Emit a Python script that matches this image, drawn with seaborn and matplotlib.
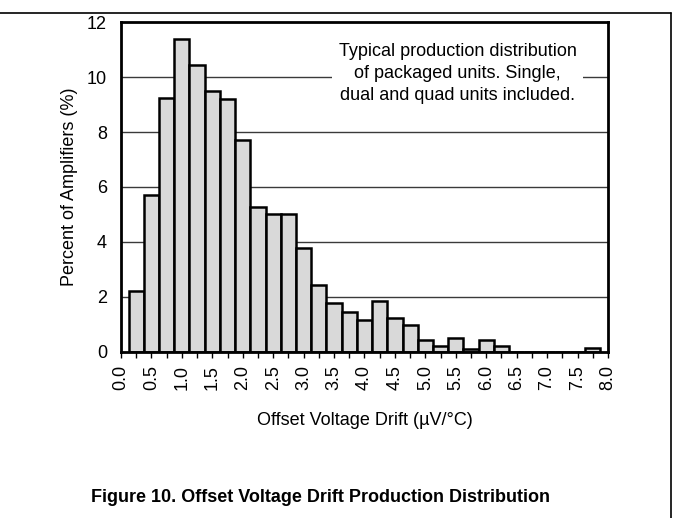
import matplotlib
matplotlib.use("Agg")
import matplotlib.pyplot as plt
from matplotlib.lines import Line2D
from matplotlib.ticker import MultipleLocator
import seaborn as sns
import pandas as pd

# Data
drift_centers = [0.25, 0.50, 0.75, 1.00, 1.25, 1.50, 1.75, 2.00, 2.25, 2.50,
                 2.75, 3.00, 3.25, 3.50, 3.75, 4.00, 4.25, 4.50, 4.75, 5.00,
                 5.25, 5.50, 5.75, 6.00, 6.25, 6.50, 6.75, 7.00, 7.25, 7.50, 7.75]
percent_amplifiers = [2.2, 5.7, 9.25, 11.4, 10.43, 9.5, 9.2, 7.7, 5.27, 5.03,
                      5.03, 3.78, 2.43, 1.78, 1.46, 1.15, 1.85, 1.25, 0.97, 0.43,
                      0.21, 0.52, 0.12, 0.43, 0.22, 0.0, 0.0, 0.0, 0.0, 0.0, 0.15]
x_tick_labels = ["0.0", "0.5", "1.0", "1.5", "2.0", "2.5", "3.0", "3.5", "4.0",
                 "4.5", "5.0", "5.5", "6.0", "6.5", "7.0", "7.5", "8.0"]
y_ticks = [0, 2, 4, 6, 8, 10, 12]

x_label = "Offset Voltage Drift (\u00b5V/\u00b0C)"
y_label = "Percent of Amplifiers (%)"
note_text = ("Typical production distribution\n"
             "of packaged units. Single,\n"
             "dual and quad units included.")
caption = "Figure 10. Offset Voltage Drift Production Distribution"

sns.set_theme(style="white")
plt.rcParams["font.family"] = ["Liberation Sans", "DejaVu Sans"]

FS = 13

df = pd.DataFrame({"drift": drift_centers, "pct": percent_amplifiers})

fig = plt.figure(figsize=(6.73, 5.18), dpi=100)
ax = fig.add_axes([0.1798, 0.3205, 0.7236, 0.637])

# gridlines behind the bars
ax.set_axisbelow(True)
for yv in y_ticks[1:-1]:
    ax.axhline(yv, color="#3a3a3a", lw=1.0, zorder=0)

sns.barplot(data=df, x="drift", y="pct", native_scale=True, width=1.0,
            color="#d9d9d9", saturation=1, edgecolor="black", linewidth=1.8,
            ax=ax, zorder=2)

ax.set_xlim(0, 8)
ax.set_ylim(0, 12)
ax.set_xticks([i * 0.5 for i in range(len(x_tick_labels))])
ax.set_xticklabels(x_tick_labels, rotation=90, fontsize=FS)
ax.xaxis.set_minor_locator(MultipleLocator(0.25))
ax.tick_params(axis="x", which="both", bottom=True, direction="out",
               length=4.5, width=1.0, color="black", pad=5)
ax.set_yticks(y_ticks)
ax.set_yticklabels([str(v) for v in y_ticks], fontsize=FS)
ax.tick_params(axis="y", length=0, pad=10)
ax.grid(False)

for s in ax.spines.values():
    s.set_visible(True)
    s.set_color("black")
    s.set_linewidth(2.0)
    s.set_zorder(5)

ax.set_xlabel(x_label, fontsize=FS, labelpad=15.5, color="black")
ax.set_ylabel(y_label, fontsize=FS, labelpad=6.5, color="black")
ax.tick_params(colors="black")

ax.text(5.53, 10.13, note_text, ha="center", va="center", fontsize=FS,
        linespacing=1.4, color="black", zorder=4,
        bbox=dict(boxstyle="square,pad=0.35", facecolor="white",
                  edgecolor="none"))

fig.text(0.4755, 0.040, caption, ha="center", va="center", fontsize=13,
         fontweight="bold", color="black")

# page frame (top and right rules)
fig.add_artist(Line2D([0.0, 0.997], [0.975, 0.975], transform=fig.transFigure,
                      color="black", lw=1.2))
fig.add_artist(Line2D([0.997, 0.997], [0.0, 0.975], transform=fig.transFigure,
                      color="black", lw=1.2))

fig.savefig("out.png", dpi=100)
